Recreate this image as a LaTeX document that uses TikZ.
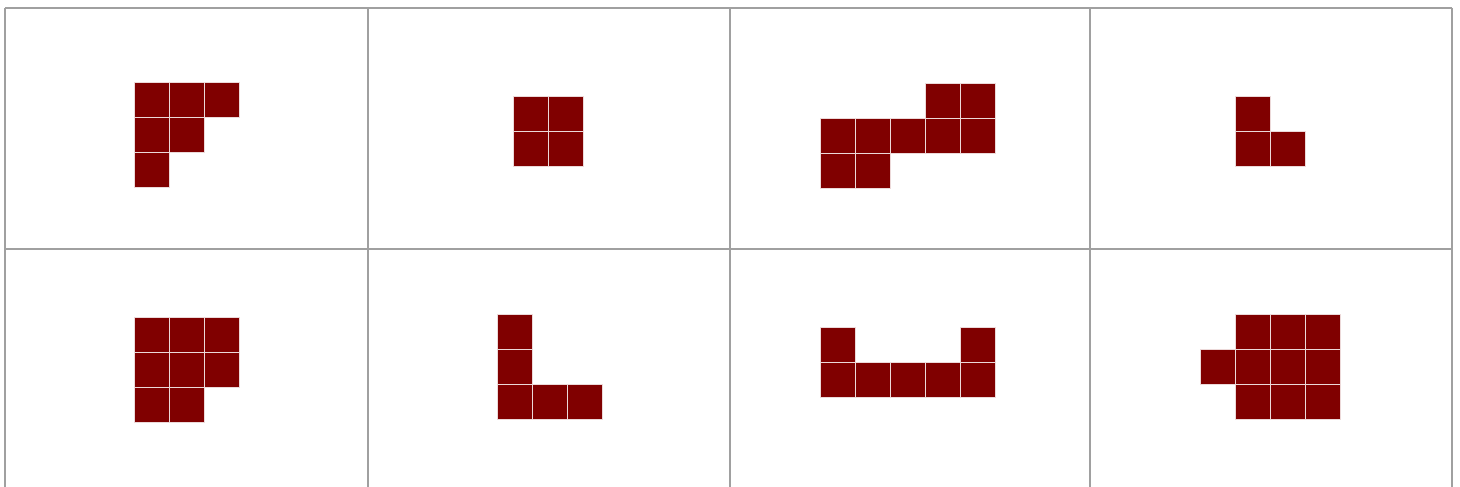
\documentclass[tikz,border=0pt]{standalone}
\definecolor{cellred}{HTML}{800000}
\definecolor{gridgray}{HTML}{A0A0A0}
\tikzset{
  sqbox/.style={fill=cellred,draw=white!85!cellred,line width=0.6pt},
  gridline/.style={draw=gridgray,line width=1.6pt}
}
\newcommand{\sqr}[2]{\path[sqbox] (#1,#2) rectangle ++(35,35);}
\begin{document}
\begin{tikzpicture}[x=1pt,y=-1pt]
\useasboundingbox (0,0) rectangle (1460,487);
\clip (0,0) rectangle (1460,487);
\fill[white] (0,0) rectangle (1460,487);
% grid
\draw[gridline] (5,8) -- (1452,8);
\draw[gridline] (5,8) -- (5,500);
\draw[gridline] (1452,8) -- (1452,500);
\draw[gridline] (368,8) -- (368,500);
\draw[gridline] (730,8) -- (730,500);
\draw[gridline] (1090,8) -- (1090,500);
\draw[gridline] (5,249) -- (1452,249);
% cell 1
\sqr{134}{82}\sqr{169}{82}\sqr{204}{82}
\sqr{134}{117}\sqr{169}{117}
\sqr{134}{152}
% cell 2
\sqr{513}{96}\sqr{548}{96}
\sqr{513}{131}\sqr{548}{131}
% cell 3
\sqr{925}{83}\sqr{960}{83}
\sqr{820}{118}\sqr{855}{118}\sqr{890}{118}\sqr{925}{118}\sqr{960}{118}
\sqr{820}{153}\sqr{855}{153}
% cell 4
\sqr{1235}{96}
\sqr{1235}{131}\sqr{1270}{131}
% cell 5
\sqr{134}{317}\sqr{169}{317}\sqr{204}{317}
\sqr{134}{352}\sqr{169}{352}\sqr{204}{352}
\sqr{134}{387}\sqr{169}{387}
% cell 6
\sqr{497}{314}
\sqr{497}{349}
\sqr{497}{384}\sqr{532}{384}\sqr{567}{384}
% cell 7
\sqr{820}{327}\sqr{960}{327}
\sqr{820}{362}\sqr{855}{362}\sqr{890}{362}\sqr{925}{362}\sqr{960}{362}
% cell 8
\sqr{1235}{314}\sqr{1270}{314}\sqr{1305}{314}
\sqr{1200}{349}\sqr{1235}{349}\sqr{1270}{349}\sqr{1305}{349}
\sqr{1235}{384}\sqr{1270}{384}\sqr{1305}{384}
\end{tikzpicture}
\end{document}
